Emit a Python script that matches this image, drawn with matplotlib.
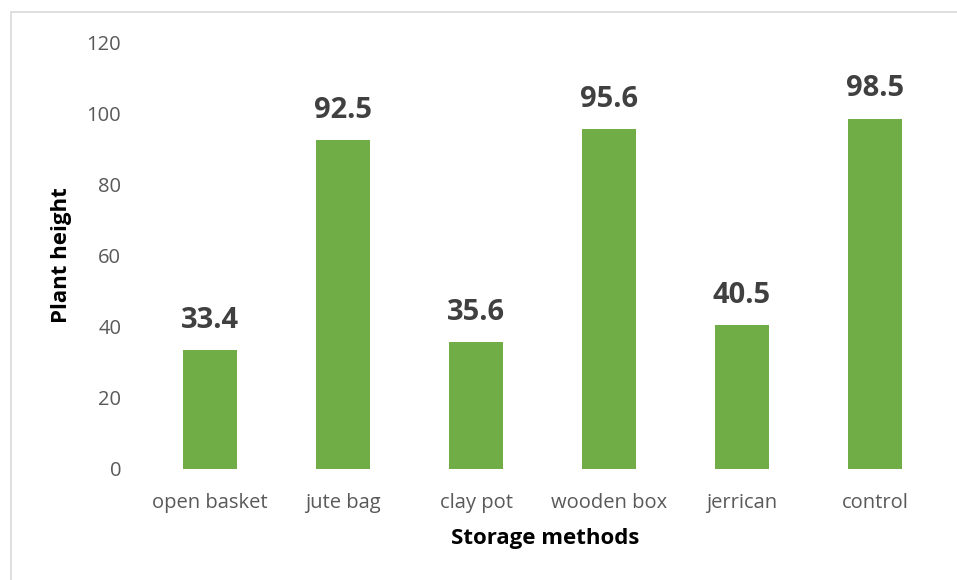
import matplotlib
matplotlib.use("Agg")
import matplotlib.pyplot as plt
from matplotlib.patches import Rectangle

categories = ["open basket", "jute bag", "clay pot", "wooden box", "jerrican", "control"]
plant_height = [33.4, 92.5, 35.6, 95.6, 40.5, 98.5]
y_ticks = [0, 20, 40, 60, 80, 100, 120]

plt.rcParams["font.family"] = ["Open Sans", "DejaVu Sans"]

W, H = 957, 580
fig = plt.figure(figsize=(W / 100, H / 100), dpi=100)
fig.patch.set_facecolor("white")

# chart-area border (extends past the right and bottom edges)
fig.patches.append(Rectangle((11 / W, -0.05), 1.2, 1 - 12 / H + 0.05,
                             transform=fig.transFigure, fill=False,
                             edgecolor="#d9d9d9", linewidth=1.2))

left, right = 143.5 / W, 941.5 / W
bottom, top = 1 - 469 / H, 1 - 42 / H
ax = fig.add_axes([left, bottom, right - left, top - bottom])

x = range(len(categories))
ax.bar(x, plant_height, width=0.405, color="#70ad47")
ax.set_xlim(-0.5, len(categories) - 0.5)
ax.set_ylim(0, 120)
ax.set_yticks(y_ticks)
ax.set_xticks(list(x))
ax.set_xticklabels(categories)

for s in ax.spines.values():
    s.set_visible(False)
ax.tick_params(axis="both", length=0, labelsize=14.5, colors="#595959")
ax.tick_params(axis="y", pad=16)
ax.tick_params(axis="x", pad=17)

for xi, v in zip(x, plant_height):
    ax.annotate(f"{v}", (xi, v), xytext=(0, 11), textcoords="offset points",
                ha="center", va="bottom", fontsize=21, fontweight="bold",
                color="#404040")

ax.set_ylabel("Plant height", fontsize=16, fontweight="bold", color="black")
ax.set_xlabel("Storage methods", fontsize=16, fontweight="bold", color="black")
ax.yaxis.set_label_coords(-0.089, 0.5)
ax.xaxis.set_label_coords(0.503, -0.138)

fig.savefig("out.png", dpi=100)
